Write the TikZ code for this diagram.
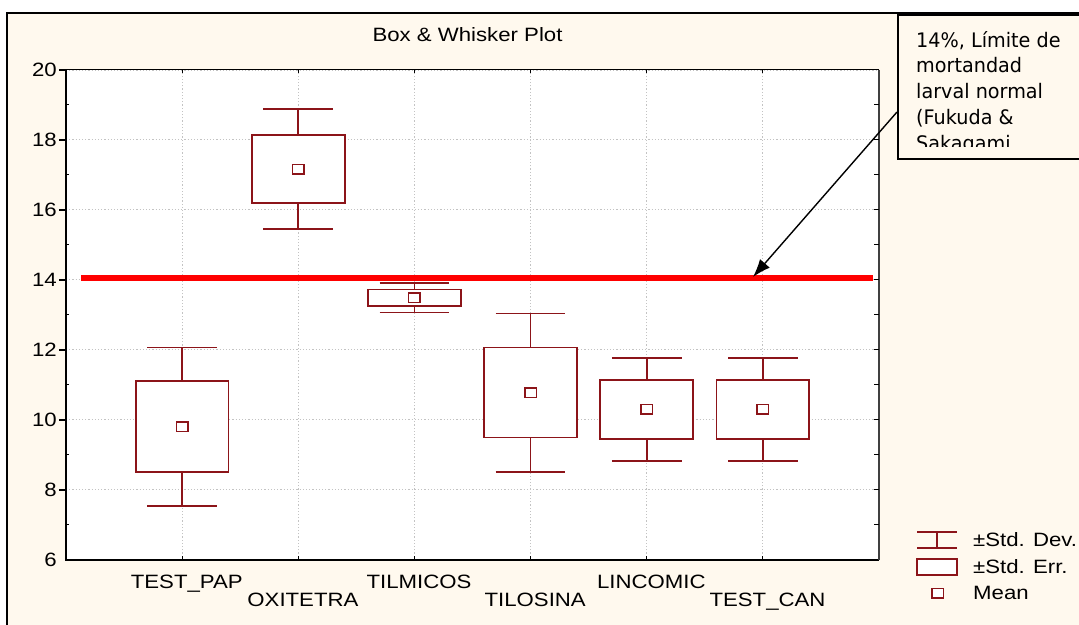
\documentclass[tikz,border=0pt]{standalone}
\usepackage{fontspec}
\usepackage{tikz}
\usetikzlibrary{arrows.meta,positioning}
\newfontfamily\plotfont[FakeStretch=1.15]{Liberation Sans}
\newfontfamily\notefont[FakeStretch=0.96]{DejaVu Sans}
\definecolor{boxred}{RGB}{140,20,25}
\definecolor{paper}{RGB}{255,249,238}
\definecolor{limitred}{RGB}{255,0,0}
\definecolor{gridgray}{RGB}{195,195,195}
\tikzstyle{frame} = [draw=black, line width=2.2pt, fill=paper]
\tikzstyle{gridline} = [draw=gridgray, line width=1pt, dash pattern=on 1.2pt off 2pt]
\tikzstyle{axisline} = [draw=black, line width=1.5pt]
\tikzstyle{sdline} = [draw=boxred, line width=1.6pt]
\tikzstyle{sebox} = [draw=boxred, line width=1.7pt, fill=white]
\tikzstyle{meanmark} = [rectangle, draw=boxred, line width=1.5pt, fill=white, minimum width=11.5pt, minimum height=9.5pt, inner sep=0pt]
\tikzstyle{plottext} = [inner sep=0pt, text=black, font={\plotfont\fontsize{19.3}{23}\selectfont}]
\tikzstyle{ticklabel} = [plottext, anchor=east, xshift=-9pt]
\tikzstyle{catlabel} = [plottext, anchor=base]
\tikzstyle{notebox} = [draw=black, line width=2pt, fill=paper, minimum width=200pt, minimum height=144pt, inner sep=0pt]
\tikzstyle{notetext} = [inner sep=0pt, align=left, text=black, font={\notefont\fontsize{20}{25.8}\selectfont}]
\tikzstyle{pointer} = [draw, line width=1.4pt, >={Latex[length=18pt, width=13pt]}, ->]

\begin{document}
\begin{tikzpicture}[x=1pt, y=1pt]
\useasboundingbox (0,0) rectangle (1079,624);
\fill[white] (0,0) rectangle (1079,624);

% frame and title =============================
\draw[frame] (7.3,-20) rectangle (1100,610.7);
\fill[white] (66,64) rectangle (879,554);
\node[plottext, anchor=base] (title) at (467.5,582.3) {Box \& Whisker Plot};

% plot in data units (category, value) ========
\begin{scope}[x=116.14pt, y=35pt, shift={(66pt,-146pt)}]

% grid and limit
\draw[gridline, xstep=1, ystep=2] (0,6) grid (7,20);
\draw[draw=limitred, line width=6pt] (0.13,14.06) -- (6.95,14.06);

% TEST_PAP
\draw[sdline] (0.7,7.55) -- (1.3,7.55) (0.7,12.07) -- (1.3,12.07) (1,7.55) -- (1,12.07);
\draw[sebox] (0.6,8.51) rectangle (1.4,11.11);
\node[meanmark] (mean1) at (1,9.81) {};

% OXITETRA
\draw[sdline] (1.7,15.46) -- (2.3,15.46) (1.7,18.88) -- (2.3,18.88) (2,15.46) -- (2,18.88);
\draw[sebox] (1.6,16.20) rectangle (2.4,18.14);
\node[meanmark] (mean2) at (2,17.17) {};

% TILMICOS
\draw[sdline] (2.7,13.07) -- (3.3,13.07) (2.7,13.91) -- (3.3,13.91) (3,13.07) -- (3,13.91);
\draw[sebox] (2.6,13.26) rectangle (3.4,13.73);
\node[meanmark] (mean3) at (3,13.49) {};

% TILOSINA
\draw[sdline] (3.7,8.52) -- (4.3,8.52) (3.7,13.04) -- (4.3,13.04) (4,8.52) -- (4,13.04);
\draw[sebox] (3.6,9.50) rectangle (4.4,12.07);
\node[meanmark] (mean4) at (4,10.78) {};

% LINCOMIC
\draw[sdline] (4.7,8.82) -- (5.3,8.82) (4.7,11.77) -- (5.3,11.77) (5,8.82) -- (5,11.77);
\draw[sebox] (4.6,9.46) rectangle (5.4,11.14);
\node[meanmark] (mean5) at (5,10.30) {};

% TEST_CAN
\draw[sdline] (5.7,8.82) -- (6.3,8.82) (5.7,11.77) -- (6.3,11.77) (6,8.82) -- (6,11.77);
\draw[sebox] (5.6,9.46) rectangle (6.4,11.14);
\node[meanmark] (mean6) at (6,10.30) {};

% axes
\draw[axisline] (0,20) -- (0,6) -- (7,6);
\draw[draw=black, line width=1pt] (0,20) -- (7,20);
\draw[draw=black!75, line width=2pt] (7,20) -- (7,6);
\draw[axisline] (0,8) -- ++(-0.06,0) (0,10) -- ++(-0.06,0) (0,12) -- ++(-0.06,0) (0,14) -- ++(-0.06,0) (0,16) -- ++(-0.06,0) (0,18) -- ++(-0.06,0) (0,20) -- ++(-0.06,0);
\draw[draw=black, line width=1pt] (0,7) -- ++(0.03,0) (0,9) -- ++(0.03,0) (0,11) -- ++(0.03,0) (0,13) -- ++(0.03,0) (0,15) -- ++(0.03,0) (0,17) -- ++(0.03,0) (0,19) -- ++(0.03,0);
\draw[draw=black, line width=1pt] (7,7) -- ++(-0.04,0) (7,8) -- ++(-0.04,0) (7,9) -- ++(-0.04,0) (7,10) -- ++(-0.04,0) (7,11) -- ++(-0.04,0) (7,12) -- ++(-0.04,0) (7,13) -- ++(-0.04,0) (7,14) -- ++(-0.04,0) (7,15) -- ++(-0.04,0) (7,16) -- ++(-0.04,0) (7,17) -- ++(-0.04,0) (7,18) -- ++(-0.04,0) (7,19) -- ++(-0.04,0);
\draw[draw=black, line width=1pt] (1,6) -- ++(0,0.1) (2,6) -- ++(0,0.1) (3,6) -- ++(0,0.1) (4,6) -- ++(0,0.1) (5,6) -- ++(0,0.1) (6,6) -- ++(0,0.1);
\draw[draw=black, line width=1pt] (1,20) -- ++(0,-0.1) (2,20) -- ++(0,-0.1) (3,20) -- ++(0,-0.1) (4,20) -- ++(0,-0.1) (5,20) -- ++(0,-0.1) (6,20) -- ++(0,-0.1);

% tick labels
\node[ticklabel] (y6) at (0,6) {6};
\node[ticklabel] (y8) at (0,8) {8};
\node[ticklabel] (y10) at (0,10) {10};
\node[ticklabel] (y12) at (0,12) {12};
\node[ticklabel] (y14) at (0,14) {14};
\node[ticklabel] (y16) at (0,16) {16};
\node[ticklabel] (y18) at (0,18) {18};
\node[ticklabel] (y20) at (0,20) {20};

% category labels
\node[catlabel] (cat1) at (1.04,5.19) {TEST\_PAP};
\node[catlabel] (cat2) at (2.04,4.67) {OXITETRA};
\node[catlabel] (cat3) at (3.04,5.19) {TILMICOS};
\node[catlabel] (cat4) at (4.04,4.67) {TILOSINA};
\node[catlabel] (cat5) at (5.04,5.19) {LINCOMIC};
\node[catlabel] (cat6) at (6.04,4.67) {TEST\_CAN};
\end{scope}

% callout =============================
\node[notebox, anchor=north west] (note) at (897,610) {};
\begin{scope}
\clip (898,477) rectangle (1079,609);
\node[notetext, anchor=north west] (notetext) at (916,593) {14\%, Límite de\\mortandad\\larval normal\\(Fukuda \&\\Sakagami};
\end{scope}
\coordinate (notefoot) at (897,512);
\coordinate (limit) at (753,347);
\path[pointer] (notefoot) -- (limit);

% legend =============================
\draw[sdline] (917,92) -- (957,92) (917,76) -- (957,76) (937,76) -- (937,92);
\node[sebox, rectangle, minimum width=40pt, minimum height=16pt, inner sep=0pt] (legerr) at (937,57) {};
\node[meanmark] (legmean) at (937.5,31) {};
\node[plottext, anchor=base west] (legsd) at (973,77.35) {±Std. Dev.};
\node[plottext, anchor=base west] (legse) at (973,50.35) {±Std. Err.};
\node[plottext, anchor=base west] (legm) at (973,24.35) {Mean};

\end{tikzpicture}
\end{document}
